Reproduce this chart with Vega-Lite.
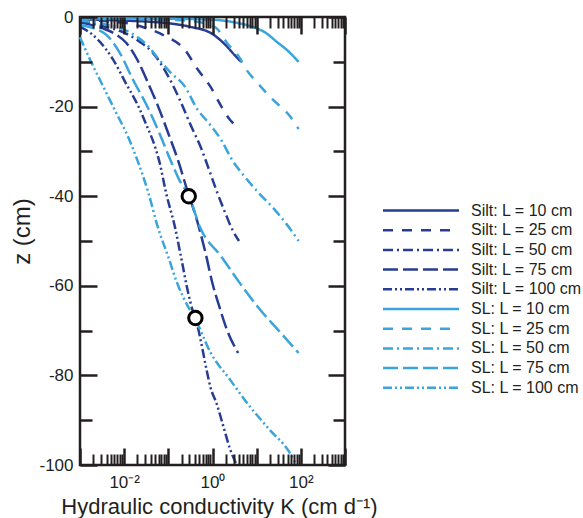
{
 "$schema": "https://vega.github.io/schema/vega-lite/v6.json",
 "width": 265, "height": 448,
 "autosize": {"type": "none"},
 "padding": {"left": 80, "top": 17, "right": 238, "bottom": 53},
 "background": "white",
 "config": {
  "view": {"stroke": "#231F20", "strokeWidth": 2.5},
  "axis": {"grid": false, "domain": false, "tickColor": "#231F20", "labelColor": "#231F20", "titleColor": "#231F20", "labelFont": "Liberation Sans", "titleFont": "Liberation Sans", "titleFontWeight": "normal", "labelFontSize": 17, "titleFontSize": 22}
 },
 "datasets": {
  "curves": [
   {"series": "Silt: L = 10 cm", "K": 0.001, "z": -0.5}, {"series": "Silt: L = 10 cm", "K": 0.01, "z": -0.8}, {"series": "Silt: L = 10 cm", "K": 0.1, "z": -1.4}, {"series": "Silt: L = 10 cm", "K": 0.3162, "z": -2.2}, {"series": "Silt: L = 10 cm", "K": 1, "z": -3.8}, {"series": "Silt: L = 10 cm", "K": 1.995, "z": -6.3}, {"series": "Silt: L = 10 cm", "K": 3.162, "z": -8.5}, {"series": "Silt: L = 10 cm", "K": 4.467, "z": -10},
   {"series": "Silt: L = 25 cm", "K": 0.001, "z": -0.7}, {"series": "Silt: L = 25 cm", "K": 0.01, "z": -1.3}, {"series": "Silt: L = 25 cm", "K": 0.03162, "z": -2.5}, {"series": "Silt: L = 25 cm", "K": 0.08318, "z": -4.2}, {"series": "Silt: L = 25 cm", "K": 0.2399, "z": -7.4}, {"series": "Silt: L = 25 cm", "K": 0.4467, "z": -11.5}, {"series": "Silt: L = 25 cm", "K": 0.8913, "z": -15.5}, {"series": "Silt: L = 25 cm", "K": 1.66, "z": -20.3}, {"series": "Silt: L = 25 cm", "K": 2.512, "z": -23}, {"series": "Silt: L = 25 cm", "K": 3.162, "z": -24}, {"series": "Silt: L = 25 cm", "K": 3.981, "z": -25},
   {"series": "Silt: L = 50 cm", "K": 0.001, "z": -1}, {"series": "Silt: L = 50 cm", "K": 0.003162, "z": -2}, {"series": "Silt: L = 50 cm", "K": 0.01, "z": -3.5}, {"series": "Silt: L = 50 cm", "K": 0.02239, "z": -5.5}, {"series": "Silt: L = 50 cm", "K": 0.04467, "z": -8}, {"series": "Silt: L = 50 cm", "K": 0.1096, "z": -14}, {"series": "Silt: L = 50 cm", "K": 0.182, "z": -18.5}, {"series": "Silt: L = 50 cm", "K": 0.3162, "z": -24}, {"series": "Silt: L = 50 cm", "K": 0.5754, "z": -29.7}, {"series": "Silt: L = 50 cm", "K": 0.871, "z": -34.6}, {"series": "Silt: L = 50 cm", "K": 1.259, "z": -39}, {"series": "Silt: L = 50 cm", "K": 1.995, "z": -44}, {"series": "Silt: L = 50 cm", "K": 2.818, "z": -47.5}, {"series": "Silt: L = 50 cm", "K": 3.981, "z": -50},
   {"series": "Silt: L = 75 cm", "K": 0.001, "z": -1.2}, {"series": "Silt: L = 75 cm", "K": 0.003162, "z": -2.5}, {"series": "Silt: L = 75 cm", "K": 0.00631, "z": -3.8}, {"series": "Silt: L = 75 cm", "K": 0.01122, "z": -5.8}, {"series": "Silt: L = 75 cm", "K": 0.01995, "z": -9.6}, {"series": "Silt: L = 75 cm", "K": 0.03467, "z": -14.7}, {"series": "Silt: L = 75 cm", "K": 0.05623, "z": -19.5}, {"series": "Silt: L = 75 cm", "K": 0.1, "z": -26}, {"series": "Silt: L = 75 cm", "K": 0.166, "z": -32}, {"series": "Silt: L = 75 cm", "K": 0.2951, "z": -40}, {"series": "Silt: L = 75 cm", "K": 0.3981, "z": -43.8}, {"series": "Silt: L = 75 cm", "K": 0.7079, "z": -53}, {"series": "Silt: L = 75 cm", "K": 1, "z": -59.5}, {"series": "Silt: L = 75 cm", "K": 1.413, "z": -64.5}, {"series": "Silt: L = 75 cm", "K": 2.138, "z": -69.9}, {"series": "Silt: L = 75 cm", "K": 3.802, "z": -75},
   {"series": "Silt: L = 100 cm", "K": 0.001, "z": -2.2}, {"series": "Silt: L = 100 cm", "K": 0.001259, "z": -2.7}, {"series": "Silt: L = 100 cm", "K": 0.002512, "z": -5}, {"series": "Silt: L = 100 cm", "K": 0.005623, "z": -9.5}, {"series": "Silt: L = 100 cm", "K": 0.01122, "z": -15}, {"series": "Silt: L = 100 cm", "K": 0.01995, "z": -19.5}, {"series": "Silt: L = 100 cm", "K": 0.03162, "z": -24}, {"series": "Silt: L = 100 cm", "K": 0.05012, "z": -29}, {"series": "Silt: L = 100 cm", "K": 0.0631, "z": -32.4}, {"series": "Silt: L = 100 cm", "K": 0.08913, "z": -39.3}, {"series": "Silt: L = 100 cm", "K": 0.1413, "z": -46.9}, {"series": "Silt: L = 100 cm", "K": 0.1995, "z": -54.2}, {"series": "Silt: L = 100 cm", "K": 0.2818, "z": -61.6}, {"series": "Silt: L = 100 cm", "K": 0.3548, "z": -65.5}, {"series": "Silt: L = 100 cm", "K": 0.4467, "z": -68.5}, {"series": "Silt: L = 100 cm", "K": 0.5623, "z": -73}, {"series": "Silt: L = 100 cm", "K": 0.7079, "z": -78}, {"series": "Silt: L = 100 cm", "K": 0.8913, "z": -82.5}, {"series": "Silt: L = 100 cm", "K": 1.259, "z": -86.5}, {"series": "Silt: L = 100 cm", "K": 1.778, "z": -91.5}, {"series": "Silt: L = 100 cm", "K": 2.512, "z": -96.5}, {"series": "Silt: L = 100 cm", "K": 3.548, "z": -100},
   {"series": "SL: L = 10 cm", "K": 0.001, "z": -0.3}, {"series": "SL: L = 10 cm", "K": 0.1, "z": -0.4}, {"series": "SL: L = 10 cm", "K": 1, "z": -0.6}, {"series": "SL: L = 10 cm", "K": 3.162, "z": -1.2}, {"series": "SL: L = 10 cm", "K": 7.943, "z": -2.2}, {"series": "SL: L = 10 cm", "K": 15.85, "z": -3.5}, {"series": "SL: L = 10 cm", "K": 28.18, "z": -5.5}, {"series": "SL: L = 10 cm", "K": 50.12, "z": -7.5}, {"series": "SL: L = 10 cm", "K": 89.13, "z": -10},
   {"series": "SL: L = 25 cm", "K": 0.001, "z": -0.4}, {"series": "SL: L = 25 cm", "K": 0.1, "z": -0.6}, {"series": "SL: L = 25 cm", "K": 0.631, "z": -1.3}, {"series": "SL: L = 25 cm", "K": 1.259, "z": -2.6}, {"series": "SL: L = 25 cm", "K": 2.138, "z": -5.8}, {"series": "SL: L = 25 cm", "K": 4.169, "z": -9.2}, {"series": "SL: L = 25 cm", "K": 5.623, "z": -11.5}, {"series": "SL: L = 25 cm", "K": 10, "z": -14.5}, {"series": "SL: L = 25 cm", "K": 22.39, "z": -18.3}, {"series": "SL: L = 25 cm", "K": 56.23, "z": -22.1}, {"series": "SL: L = 25 cm", "K": 89.13, "z": -25},
   {"series": "SL: L = 50 cm", "K": 0.001, "z": -0.8}, {"series": "SL: L = 50 cm", "K": 0.003162, "z": -1.5}, {"series": "SL: L = 50 cm", "K": 0.01, "z": -2.8}, {"series": "SL: L = 50 cm", "K": 0.01995, "z": -4.5}, {"series": "SL: L = 50 cm", "K": 0.03311, "z": -6.25}, {"series": "SL: L = 50 cm", "K": 0.05495, "z": -8.9}, {"series": "SL: L = 50 cm", "K": 0.1096, "z": -12.3}, {"series": "SL: L = 50 cm", "K": 0.2399, "z": -15.6}, {"series": "SL: L = 50 cm", "K": 0.4467, "z": -20.5}, {"series": "SL: L = 50 cm", "K": 0.7943, "z": -23.5}, {"series": "SL: L = 50 cm", "K": 1.585, "z": -27.5}, {"series": "SL: L = 50 cm", "K": 2.818, "z": -32}, {"series": "SL: L = 50 cm", "K": 5.012, "z": -35.3}, {"series": "SL: L = 50 cm", "K": 10.72, "z": -39.1}, {"series": "SL: L = 50 cm", "K": 23.44, "z": -42.6}, {"series": "SL: L = 50 cm", "K": 48.98, "z": -46.4}, {"series": "SL: L = 50 cm", "K": 89.13, "z": -50},
   {"series": "SL: L = 75 cm", "K": 0.001, "z": -1.8}, {"series": "SL: L = 75 cm", "K": 0.001995, "z": -2.5}, {"series": "SL: L = 75 cm", "K": 0.003981, "z": -4}, {"series": "SL: L = 75 cm", "K": 0.007943, "z": -8}, {"series": "SL: L = 75 cm", "K": 0.01585, "z": -14}, {"series": "SL: L = 75 cm", "K": 0.03162, "z": -19.5}, {"series": "SL: L = 75 cm", "K": 0.0631, "z": -26}, {"series": "SL: L = 75 cm", "K": 0.1122, "z": -32}, {"series": "SL: L = 75 cm", "K": 0.1778, "z": -36.4}, {"series": "SL: L = 75 cm", "K": 0.2951, "z": -40}, {"series": "SL: L = 75 cm", "K": 0.5248, "z": -47}, {"series": "SL: L = 75 cm", "K": 1.585, "z": -53.5}, {"series": "SL: L = 75 cm", "K": 4.169, "z": -59.4}, {"series": "SL: L = 75 cm", "K": 11.22, "z": -65}, {"series": "SL: L = 75 cm", "K": 31.62, "z": -70}, {"series": "SL: L = 75 cm", "K": 89.13, "z": -75},
   {"series": "SL: L = 100 cm", "K": 0.001, "z": -4.5}, {"series": "SL: L = 100 cm", "K": 0.001778, "z": -10}, {"series": "SL: L = 100 cm", "K": 0.003162, "z": -15}, {"series": "SL: L = 100 cm", "K": 0.00631, "z": -21}, {"series": "SL: L = 100 cm", "K": 0.01259, "z": -27}, {"series": "SL: L = 100 cm", "K": 0.01995, "z": -32}, {"series": "SL: L = 100 cm", "K": 0.03548, "z": -39.3}, {"series": "SL: L = 100 cm", "K": 0.05623, "z": -46.5}, {"series": "SL: L = 100 cm", "K": 0.1, "z": -53.6}, {"series": "SL: L = 100 cm", "K": 0.1585, "z": -59.4}, {"series": "SL: L = 100 cm", "K": 0.2818, "z": -64.7}, {"series": "SL: L = 100 cm", "K": 0.3981, "z": -67.2}, {"series": "SL: L = 100 cm", "K": 0.8913, "z": -74.8}, {"series": "SL: L = 100 cm", "K": 2.512, "z": -81}, {"series": "SL: L = 100 cm", "K": 7.079, "z": -87}, {"series": "SL: L = 100 cm", "K": 19.95, "z": -92.2}, {"series": "SL: L = 100 cm", "K": 56.23, "z": -97.3}, {"series": "SL: L = 100 cm", "K": 79.43, "z": -100}
  ],
  "points": [
   {"K": 0.29, "z": -40},
   {"K": 0.41, "z": -67.2}
  ]
 },
 "resolve": {"axis": {"x": "independent", "y": "independent"}},
 "layer": [
  {
   "data": {"name": "curves"},
   "mark": {"type": "line", "strokeWidth": 2.5, "interpolate": "monotone"},
   "encoding": {
    "x": {"field": "K", "type": "quantitative", "scale": {"type": "log", "domain": [0.001, 1000], "nice": false},
     "axis": {"orient": "bottom", "values": [0.01, 1, 100], "labelExpr": "datum.value < 0.05 ? '10⁻²' : (datum.value < 5 ? '10⁰' : '10²')", "ticks": false, "labelPadding": 9, "labelFlush": false,
      "title": "Hydraulic conductivity K (cm d⁻¹)", "titleBaseline": "alphabetic", "titleY": 48, "titleX": 139, "titleAlign": "center"}},
    "y": {"field": "z", "type": "quantitative", "scale": {"domain": [-100, 0], "nice": false},
     "axis": {"orient": "left", "values": [0, -20, -40, -60, -80, -100], "labelExpr": "'' + datum.value", "ticks": false, "labelPadding": 7, "labelFlush": false,
      "title": "z (cm)", "titleFontSize": 24, "titleAngle": -90, "titleBaseline": "alphabetic", "titleAlign": "center", "titleX": -51, "titleY": 214}},
    "color": {"field": "series", "type": "nominal",
     "scale": {"domain": ["Silt: L = 10 cm", "Silt: L = 25 cm", "Silt: L = 50 cm", "Silt: L = 75 cm", "Silt: L = 100 cm", "SL: L = 10 cm", "SL: L = 25 cm", "SL: L = 50 cm", "SL: L = 75 cm", "SL: L = 100 cm"],
      "range": ["#273C93", "#273C93", "#273C93", "#273C93", "#273C93", "#3AA5DC", "#3AA5DC", "#3AA5DC", "#3AA5DC", "#3AA5DC"]},
     "legend": {"orient": "none", "legendX": 330, "legendY": 182.5, "title": null, "symbolType": "M-4,0H4", "symbolSize": 361, "symbolStrokeWidth": 2.5, "labelFontSize": 16, "labelFont": "Liberation Sans", "labelColor": "#231F20", "labelOffset": 39, "rowPadding": 0.7, "padding": 0, "labelLimit": 0}},
    "strokeDash": {"field": "series", "type": "nominal",
     "scale": {"domain": ["Silt: L = 10 cm", "Silt: L = 25 cm", "Silt: L = 50 cm", "Silt: L = 75 cm", "Silt: L = 100 cm", "SL: L = 10 cm", "SL: L = 25 cm", "SL: L = 50 cm", "SL: L = 75 cm", "SL: L = 100 cm"],
      "range": [[1, 0], [10, 9], [10, 4, 2, 4], [15, 5], [9, 3, 2, 3, 2, 3], [1, 0], [10, 9], [10, 4, 2, 4], [15, 5], [9, 3, 2, 3, 2, 3]]}}
   }
  },
  {
   "data": {"name": "points"},
   "mark": {"type": "point", "shape": "circle", "filled": true, "fill": "white", "stroke": "#000000", "strokeWidth": 3, "size": 180, "opacity": 1},
   "encoding": {
    "x": {"field": "K", "type": "quantitative", "scale": {"type": "log", "domain": [0.001, 1000], "nice": false},
     "axis": {"orient": "bottom", "values": [0.001, 0.01, 0.1, 1, 10, 100, 1000], "labels": false, "tickSize": -17, "tickWidth": 2.5, "title": null, "zindex": 1}},
    "y": {"field": "z", "type": "quantitative", "scale": {"domain": [-100, 0], "nice": false},
     "axis": {"orient": "left", "values": [0, -20, -40, -60, -80, -100], "labels": false, "tickSize": -17, "tickWidth": 2.5, "title": null, "zindex": 1}}
   }
  },
  {
   "data": {"name": "points"},
   "mark": {"type": "point", "opacity": 0},
   "encoding": {
    "x": {"field": "K", "type": "quantitative", "scale": {"type": "log", "domain": [0.001, 1000], "nice": false},
     "axis": {"orient": "bottom", "values": [0.002, 0.003, 0.004, 0.005, 0.006, 0.007, 0.008, 0.009, 0.02, 0.03, 0.04, 0.05, 0.06, 0.07, 0.08, 0.09, 0.2, 0.3, 0.4, 0.5, 0.6, 0.7, 0.8, 0.9, 2, 3, 4, 5, 6, 7, 8, 9, 20, 30, 40, 50, 60, 70, 80, 90, 200, 300, 400, 500, 600, 700, 800, 900], "labels": false, "tickSize": -11, "tickWidth": 2, "title": null, "zindex": 1}},
    "y": {"field": "z", "type": "quantitative", "scale": {"domain": [-100, 0], "nice": false},
     "axis": {"orient": "left", "values": [-10, -30, -50, -70, -90], "labels": false, "tickSize": -12, "tickWidth": 2.5, "title": null, "zindex": 1}}
   }
  },
  {
   "data": {"name": "points"},
   "mark": {"type": "point", "opacity": 0},
   "encoding": {
    "x": {"field": "K", "type": "quantitative", "scale": {"type": "log", "domain": [0.001, 1000], "nice": false},
     "axis": {"orient": "top", "values": [0.001, 0.01, 0.1, 1, 10, 100, 1000], "labels": false, "tickSize": -17, "tickWidth": 2.5, "title": null, "zindex": 1}},
    "y": {"field": "z", "type": "quantitative", "scale": {"domain": [-100, 0], "nice": false},
     "axis": {"orient": "right", "values": [0, -20, -40, -60, -80, -100], "labels": false, "tickSize": -17, "tickWidth": 2.5, "title": null, "zindex": 1}}
   }
  },
  {
   "data": {"name": "points"},
   "mark": {"type": "point", "opacity": 0},
   "encoding": {
    "x": {"field": "K", "type": "quantitative", "scale": {"type": "log", "domain": [0.001, 1000], "nice": false},
     "axis": {"orient": "top", "values": [0.002, 0.003, 0.004, 0.005, 0.006, 0.007, 0.008, 0.009, 0.02, 0.03, 0.04, 0.05, 0.06, 0.07, 0.08, 0.09, 0.2, 0.3, 0.4, 0.5, 0.6, 0.7, 0.8, 0.9, 2, 3, 4, 5, 6, 7, 8, 9, 20, 30, 40, 50, 60, 70, 80, 90, 200, 300, 400, 500, 600, 700, 800, 900], "labels": false, "tickSize": -11, "tickWidth": 2, "title": null, "zindex": 1}},
    "y": {"field": "z", "type": "quantitative", "scale": {"domain": [-100, 0], "nice": false},
     "axis": {"orient": "right", "values": [-10, -30, -50, -70, -90], "labels": false, "tickSize": -12, "tickWidth": 2.5, "title": null, "zindex": 1}}
   }
  }
 ]
}
